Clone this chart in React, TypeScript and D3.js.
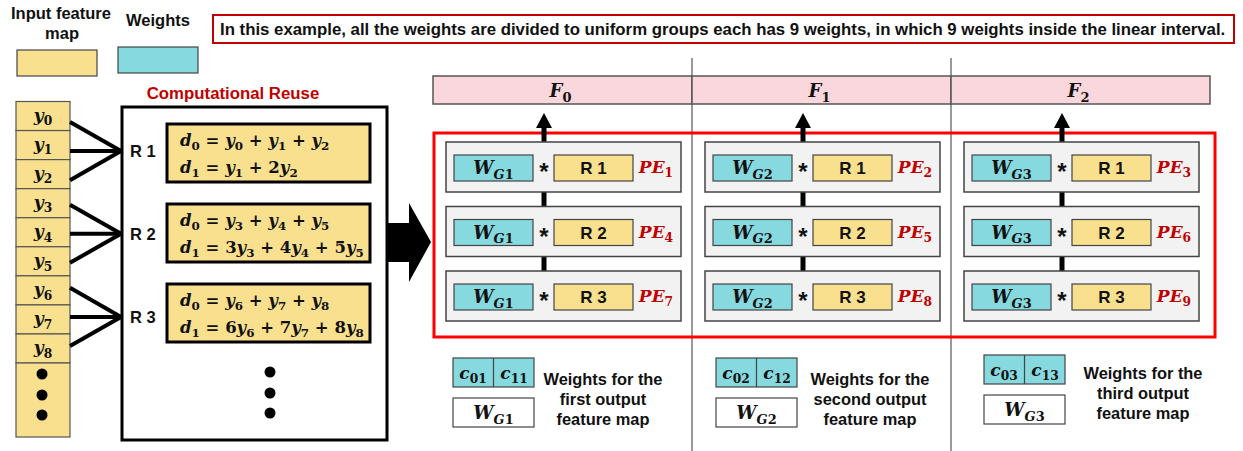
import React from 'react';
import * as d3 from 'd3';

// ---- data ----
const inputVars = ['y_0', 'y_1', 'y_2', 'y_3', 'y_4', 'y_5', 'y_6', 'y_7', 'y_8'];
const reuseLabels = ['R 1', 'R 2', 'R 3'];
const reuseInputs = [[0, 1, 2], [3, 4, 5], [6, 7, 8]];
const eqD0 = ['d_0 = y_0 + y_1 + y_2', 'd_0 = y_3 + y_4 + y_5', 'd_0 = y_6 + y_7 + y_8'];
const eqD1 = ['d_1 = y_1 + 2y_2', 'd_1 = 3y_3 + 4y_4 + 5y_5', 'd_1 = 6y_6 + 7y_7 + 8y_8'];
const outputMaps = ['F_0', 'F_1', 'F_2'];
const weightGroups = ['W_{G1}', 'W_{G2}', 'W_{G3}'];
const peLabels = [
  ['PE_1', 'PE_4', 'PE_7'],
  ['PE_2', 'PE_5', 'PE_8'],
  ['PE_3', 'PE_6', 'PE_9'],
];
const coeffLabels = [
  ['c_{01}', 'c_{11}'],
  ['c_{02}', 'c_{12}'],
  ['c_{03}', 'c_{13}'],
];
const legendLines = [
  ['Weights for the', 'first output', 'feature map'],
  ['Weights for the', 'second  output', 'feature map'],
  ['Weights for the', 'third  output', 'feature map'],
];
const noteText =
  'In this example, all the weights are divided to uniform groups each has 9 weights, in which 9 weights inside the linear interval.';

const YELLOW = '#f9e08f';
const CYAN = '#86d9de';
const PINK = '#fad7dc';
const RED = '#c00000';
const SANS = 'Liberation Sans, Arial, sans-serif';
const SERIF = 'DejaVu Serif, serif';

// letters italic, digits/operators upright, _x or _{..} as subscript
function math(src: string, size: number) {
  const segs: { t: string; it: boolean; sub: boolean }[] = [];
  const push = (ch: string, sub: boolean) => {
    const it = /[A-Za-z]/.test(ch);
    const last = segs[segs.length - 1];
    if (last && last.it === it && last.sub === sub) last.t += ch;
    else segs.push({ t: ch, it, sub });
  };
  let i = 0;
  while (i < src.length) {
    const ch = src[i];
    if (ch === '_') {
      i++;
      let grp = '';
      if (src[i] === '{') {
        const j = src.indexOf('}', i);
        grp = src.slice(i + 1, j);
        i = j + 1;
      } else {
        grp = src[i];
        i++;
      }
      for (const c of grp) push(c, true);
    } else {
      push(ch, false);
      i++;
    }
  }
  const shift = size * 0.25;
  let cur = 0;
  return segs.map((s, k) => {
    const target = s.sub ? shift : 0;
    const dy = target - cur;
    cur = target;
    return (
      <tspan key={k} dy={dy} fontStyle={s.it ? 'italic' : 'normal'} fontSize={s.sub ? size * 0.72 : size}>
        {s.t}
      </tspan>
    );
  });
}

const App = () => {
  // input column rows
  const rowY = d3.scaleLinear().domain([0, inputVars.length]).range([101.5, 363]);
  const rowH = rowY(1) - rowY(0);
  const eqTop = d3.scaleLinear().domain([0, 2]).range([124, 284]);
  const convergeShift = [6, 1.5, -2.5];

  // PE array
  const colX = d3.scaleBand<number>().domain([0, 1, 2]).range([433, 1210]);
  const peTop = d3.scaleLinear().domain([0, 2]).range([142, 271]);
  const peH = 50;
  const legendDx = [20, 24, 33];
  const legendDy = [0, 0, -3];
  const legendTx = [170, 178, 192];

  return (
    <svg width={1243} height={451} style={{ position: 'absolute', left: 0, top: 0, background: '#fff' }}>
      {/* top legend */}
      <g fontFamily={SANS} fontWeight="bold" fontSize={16.5} textAnchor="middle" fill="#111">
        <text x={61} y={19}>Input feature</text>
        <text x={62} y={39}>map</text>
        <text x={158} y={26}>Weights</text>
      </g>
      <rect x={17} y={50} width={80} height={26} fill={YELLOW} stroke="#444" strokeWidth={1.2} />
      <rect x={118} y={47} width={80} height={26} fill={CYAN} stroke="#444" strokeWidth={1.2} />

      {/* note */}
      <rect x={213} y={15} width={1021} height={28} fill="#fff" stroke={RED} strokeWidth={2} />
      <text x={220} y={35} fontFamily={SANS} fontWeight="bold" fontSize={16.8} fill="#111">
        {noteText}
      </text>

      {/* computational reuse */}
      <text x={233} y={99} textAnchor="middle" fontFamily={SANS} fontWeight="bold" fontSize={16.8} fill={RED}>
        Computational Reuse
      </text>
      <rect x={122} y={107} width={265} height={333} fill="#fff" stroke="#000" strokeWidth={3} />

      {/* input feature map column */}
      {inputVars.map((v, i) => (
        <g key={v}>
          <rect x={16} y={rowY(i)} width={54} height={rowH} fill={YELLOW} stroke="#555" strokeWidth={1.2} />
          <text
            x={43}
            y={rowY(i) + rowH / 2 + 5}
            textAnchor="middle"
            fontFamily={SERIF}
            fontWeight="bold"
            fontSize={17}
            fill="#111"
          >
            {math(v, 17)}
          </text>
        </g>
      ))}
      <rect x={16} y={rowY(inputVars.length)} width={54} height={74} fill={YELLOW} stroke="#555" strokeWidth={1.2} />
      {[374, 395, 415].map((y) => (
        <circle key={y} cx={42} cy={y} r={5.5} fill="#000" />
      ))}

      {/* reuse groups */}
      {reuseLabels.map((lab, g) => {
        const mid = reuseInputs[g][1];
        const cy = rowY(mid) + rowH / 2 + convergeShift[g];
        const top = eqTop(g);
        return (
          <g key={lab}>
            {reuseInputs[g].map((r) => (
              <line
                key={r}
                x1={70}
                y1={rowY(r) + rowH / 2 + convergeShift[g]}
                x2={121}
                y2={cy}
                stroke="#000"
                strokeWidth={4}
              />
            ))}
            <text x={130} y={cy + 6} fontFamily={SANS} fontWeight="bold" fontSize={16.5} fill="#111">
              {lab}
            </text>
            <rect x={167} y={top} width={203} height={58} fill={YELLOW} stroke="#000" strokeWidth={3} />
            <text x={180} y={top + 22} fontFamily={SERIF} fontWeight="bold" fontSize={16.5} fill="#111" style={{ whiteSpace: 'pre' }}>
              {math(eqD0[g], 16.5)}
            </text>
            <text x={180} y={top + 49} fontFamily={SERIF} fontWeight="bold" fontSize={16.5} fill="#111" style={{ whiteSpace: 'pre' }}>
              {math(eqD1[g], 16.5)}
            </text>
          </g>
        );
      })}
      {[372, 393, 413].map((y) => (
        <circle key={y} cx={270} cy={y} r={5.5} fill="#000" />
      ))}

      {/* big arrow */}
      <path d="M387,223 L409,223 L409,203 L431,242 L409,282 L409,262 L387,262 Z" fill="#000" />

      {/* separators */}
      {[1, 2].map((c) => (
        <line key={c} x1={colX(c)!} y1={58} x2={colX(c)!} y2={451} stroke="#9a9a9a" strokeWidth={2} />
      ))}

      {/* output header */}
      {outputMaps.map((f, c) => (
        <g key={f}>
          <rect x={colX(c)!} y={76} width={colX.bandwidth()} height={28} fill={PINK} stroke="#555" strokeWidth={1.5} />
          <text
            x={colX(c)! + colX.bandwidth() / 2 - 2}
            y={97}
            textAnchor="middle"
            fontFamily={SERIF}
            fontWeight="bold"
            fontSize={18}
            fill="#111"
          >
            {math(f, 18)}
          </text>
        </g>
      ))}

      {/* red PE array box */}
      <rect x={434} y={133} width={781} height={204} fill="none" stroke="#ff0000" strokeWidth={3} />

      {/* PE columns */}
      {weightGroups.map((w, c) => {
        const b = colX(c)!;
        const sx = b + 111;
        return (
          <g key={w}>
            {/* up arrow */}
            <line x1={sx} y1={peTop(0)} x2={sx} y2={127} stroke="#000" strokeWidth={5} />
            <path d={`M${sx - 8},128 L${sx},113 L${sx + 8},128 Z`} fill="#000" />
            {[0, 1].map((r) => (
              <line key={r} x1={sx} y1={peTop(r) + peH} x2={sx} y2={peTop(r + 1)} stroke="#000" strokeWidth={5} />
            ))}
            {peLabels[c].map((pe, r) => {
              const t = peTop(r);
              return (
                <g key={pe}>
                  <rect x={b + 13} y={t} width={235} height={peH} fill="#f2f2f2" stroke="#444" strokeWidth={1.5} />
                  <rect x={b + 21} y={t + 13} width={79} height={26} fill={CYAN} stroke="#444" strokeWidth={1.2} />
                  <text x={b + 60.5} y={t + 32} textAnchor="middle" fontFamily={SERIF} fontWeight="bold" fontSize={18} fill="#111">
                    {math(w, 18)}
                  </text>
                  <text x={sx} y={t + 38} textAnchor="middle" fontFamily={SANS} fontWeight="bold" fontSize={24} fill="#111">
                    *
                  </text>
                  <rect x={b + 121} y={t + 13} width={79} height={26} fill={YELLOW} stroke="#444" strokeWidth={1.2} />
                  <text x={b + 160.5} y={t + 32} textAnchor="middle" fontFamily={SANS} fontWeight="bold" fontSize={17} fill="#111">
                    {reuseLabels[r]}
                  </text>
                  <text x={b + 223} y={t + 31} textAnchor="middle" fontFamily={SERIF} fontWeight="bold" fontSize={17} fill={RED}>
                    {math(pe, 17)}
                  </text>
                </g>
              );
            })}

            {/* bottom weight legend */}
            <g transform={`translate(${b + legendDx[c]},${legendDy[c]})`}>
              <rect x={0} y={358} width={81} height={29} fill={CYAN} stroke="#444" strokeWidth={1.2} />
              <line x1={40.5} y1={358} x2={40.5} y2={387} stroke="#444" strokeWidth={1.2} />
              {coeffLabels[c].map((cl, k) => (
                <text key={cl} x={20 + k * 41} y={379} textAnchor="middle" fontFamily={SERIF} fontWeight="bold" fontSize={17} fill="#111">
                  {math(cl, 17)}
                </text>
              ))}
              <rect x={0} y={398} width={81} height={29} fill="#fff" stroke="#444" strokeWidth={1.2} />
              <text x={40.5} y={419} textAnchor="middle" fontFamily={SERIF} fontWeight="bold" fontSize={18} fill="#111">
                {math(w, 18)}
              </text>
            </g>
            <g fontFamily={SANS} fontWeight="bold" fontSize={16.4} textAnchor="middle" fill="#111" style={{ whiteSpace: 'pre' }}>
              {legendLines[c].map((ln, k) => (
                <text key={k} x={b + legendTx[c]} y={385 + k * 20 + legendDy[c] * 2}>
                  {ln}
                </text>
              ))}
            </g>
          </g>
        );
      })}
    </svg>
  );
};

export default App;
